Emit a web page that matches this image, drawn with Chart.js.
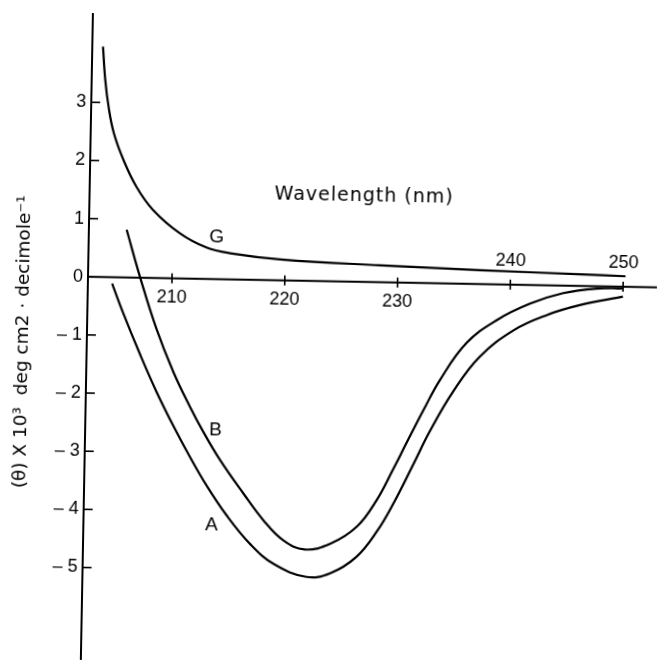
<!DOCTYPE html>
<html>
<head>
<meta charset="utf-8">
<script src="https://cdn.jsdelivr.net/npm/chart.js@4/dist/chart.umd.min.js"></script>
<style>
  html, body { margin: 0; padding: 0; background: #fff; overflow: hidden; }
  /* the scanned figure is turned about one degree */
  #cd { display: block; transform: rotate(1.07deg); transform-origin: 88px 276.7px; }
</style>
</head>
<body>
<canvas id="cd" width="659" height="661"></canvas>
<script>
// curve G
var gNm  = [203.5, 203.75, 204.1, 204.6, 205.5, 206.7, 208.2, 210.6, 213.0, 215.1, 219.6, 228.4, 237.3, 246.2, 250.2];
var gVal = [3.96, 3.40, 2.92, 2.48, 2.02, 1.56, 1.17, 0.78, 0.54, 0.45, 0.36, 0.29, 0.24, 0.20, 0.18];

// curve B
var bNm  = [205.9, 207.2, 208.7, 210.3, 211.8, 213.0, 214.6, 216.7, 218.5, 220.3, 222.2, 224.5, 226.8, 228.5, 229.9, 231.1, 232.5, 233.9, 236.2, 238.9, 241.8, 244.7, 247.7, 250.0];
var bVal = [0.82, -0.01, -0.87, -1.62, -2.20, -2.62, -3.12, -3.68, -4.13, -4.47, -4.62, -4.51, -4.21, -3.75, -3.22, -2.74, -2.19, -1.67, -1.02, -0.61, -0.32, -0.13, -0.04, -0.03];

// curve A
var aNm  = [204.7, 205.7, 207.3, 208.8, 210.4, 211.9, 213.4, 215.2, 217.4, 219.5, 222.4, 224.5, 226.8, 228.6, 230.0, 231.7, 233.1, 235.1, 237.4, 240.4, 243.3, 246.2, 250.0];
var aVal = [-0.11, -0.60, -1.32, -1.95, -2.55, -3.07, -3.55, -4.05, -4.55, -4.88, -5.09, -5.02, -4.73, -4.28, -3.80, -3.12, -2.55, -1.86, -1.25, -0.78, -0.51, -0.33, -0.17];

var xTicks = [210, 220, 230, 240, 250];
var xTicksAbove = [240, 250];
var yTicks = [3, 2, 1, 0, -1, -2, -3, -4, -5];

var curveNames = ['G', 'B', 'A'];
var nameNm  = [213.9, 214.1, 213.9];
var nameVal = [0.715, -2.604, -4.222];

var xTitle = 'Wavelength (nm)';
var yTitle = '(\u03B8) X 10\u00B3  deg cm2 \u00B7 decimole\u207B\u00B9';

function pts(xs, ys) {
  return xs.map((v, i) => ({ x: v, y: ys[i] }));
}

function curve(xs, ys) {
  return {
    data: pts(xs, ys),
    borderColor: '#000',
    borderWidth: 2.2,
    pointRadius: 0,
    fill: false,
    tension: 0.4,
  };
}

const axesPlugin = {
  id: 'axes',
  afterDatasetsDraw(chart) {
    const ctx = chart.ctx;
    const x = chart.scales.x;
    const y = chart.scales.y;
    const area = chart.chartArea;
    const y0 = y.getPixelForValue(0);

    ctx.save();
    ctx.strokeStyle = '#000';
    ctx.fillStyle = '#000';
    ctx.lineWidth = 2;

    // axis lines
    ctx.beginPath();
    ctx.moveTo(area.left, area.top);
    ctx.lineTo(area.left, area.bottom);
    ctx.moveTo(area.left, y0);
    ctx.lineTo(area.right, y0);
    ctx.stroke();

    // x ticks
    ctx.lineWidth = 1.6;
    ctx.font = '18px "Liberation Sans", Arial, sans-serif';
    ctx.textAlign = 'center';
    ctx.textBaseline = 'middle';
    xTicks.forEach(t => {
      const px = x.getPixelForValue(t);
      ctx.beginPath();
      ctx.moveTo(px, y0 - 5);
      ctx.lineTo(px, y0 + 5);
      ctx.stroke();
      const above = xTicksAbove.indexOf(t) >= 0;
      ctx.fillText(String(t), px, above ? y0 - 24 : y0 + 19);
    });

    // y ticks
    ctx.textAlign = 'right';
    yTicks.forEach(t => {
      const py = y.getPixelForValue(t);
      if (t !== 0) {
        ctx.beginPath();
        ctx.moveTo(area.left, py);
        ctx.lineTo(area.left + 9, py);
        ctx.stroke();
      }
      const label = t < 0 ? '\u2013 ' + Math.abs(t) : String(t);
      ctx.fillText(label, area.left - 5, py);
    });

    // curve names
    ctx.font = '19px "Liberation Sans", Arial, sans-serif';
    ctx.textAlign = 'center';
    curveNames.forEach((n, i) => {
      ctx.fillText(n, x.getPixelForValue(nameNm[i]), y.getPixelForValue(nameVal[i]));
    });

    // axis titles
    ctx.font = '19px "DejaVu Sans", sans-serif';
    ctx.letterSpacing = '1px';
    ctx.textBaseline = 'alphabetic';
    ctx.fillText(xTitle, x.getPixelForValue(226.9), y.getPixelForValue(1.38));

    ctx.font = '18.5px "DejaVu Sans", sans-serif';
    ctx.letterSpacing = '0px';
    ctx.translate(24, 343);
    ctx.rotate(-Math.PI / 2);
    ctx.textBaseline = 'middle';
    ctx.fillText(yTitle, 0, 0);
    ctx.restore();
  }
};

document.addEventListener('DOMContentLoaded', () => {
  var cd = document.getElementById('cd');

  new Chart(cd, {
    type: 'line',
    data: {
      datasets: [curve(gNm, gVal), curve(bNm, bVal), curve(aNm, aVal)],
    },
    options: {
      responsive: false,
      animation: false,
      events: [],
      layout: { padding: { left: 88, top: 13, right: 2, bottom: 1 } },
      plugins: { legend: { display: false }, tooltip: { enabled: false } },
      scales: {
        x: { type: 'linear', min: 202.55, max: 253.0, display: false },
        y: { type: 'linear', min: -6.59, max: 4.535, display: false },
      },
    },
    plugins: [axesPlugin],
  });
});
</script>
</body>
</html>
